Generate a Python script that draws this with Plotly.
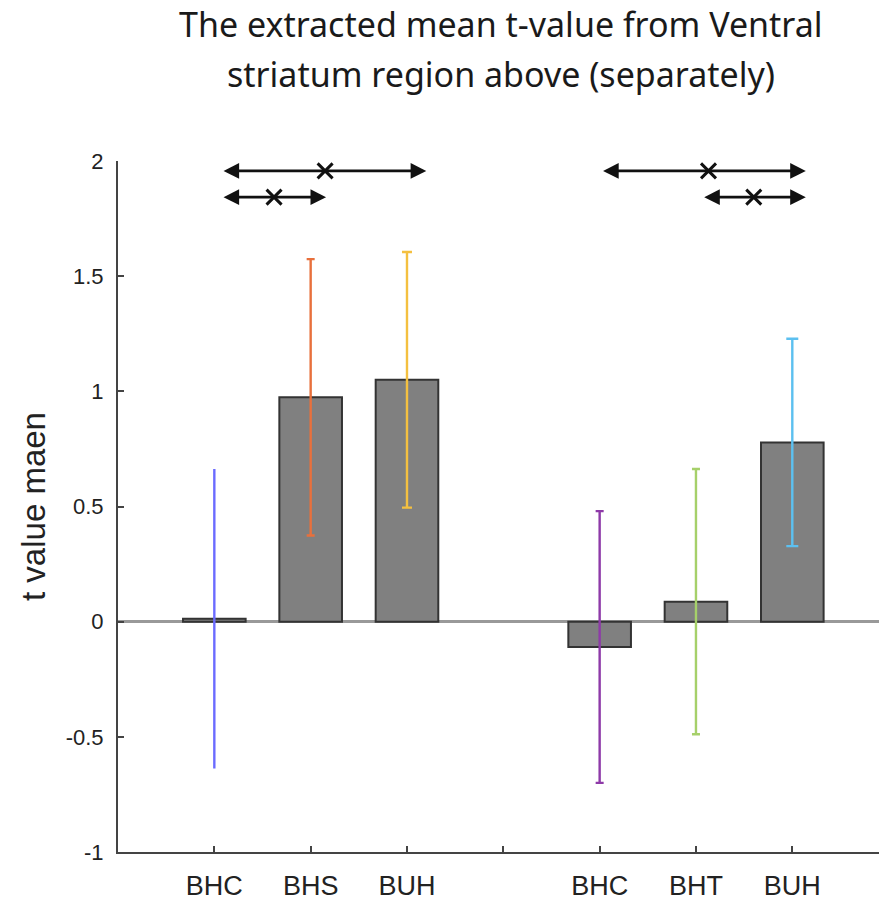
import plotly.graph_objects as go

# ---- data ----
categories = ["BHC", "BHS", "BUH", "", "BHC", "BHT", "BUH"]
positions = [1, 2, 3, 5, 6, 7]
means = [0.013, 0.974, 1.05, -0.11, 0.087, 0.778]
errors = [0.65, 0.60, 0.555, 0.59, 0.576, 0.45]
err_colors = ["#6b6bff", "#e8703c", "#f4c040", "#8e3aa8", "#a6d06a", "#5cc0f0"]
cap_widths = [0, 4, 5, 4, 4, 6]

# comparison arrows: (start, end, y, cross position)
arrow_start = [1.08, 1.08, 5.02, 6.07]
arrow_end = [3.2, 2.16, 7.14, 7.14]
arrow_y = [1.957, 1.843, 1.957, 1.843]
cross_x = [2.15, 1.62, 6.13, 6.6]

title_lines = ["The extracted mean t-value from Ventral", "striatum region above (separately)"]
title_y_px = [24, 74]

W, H = 879, 901
ML, MR, MT, MB = 118, 0, 161, 49
plot_w = W - ML - MR
plot_h = H - MT - MB

fig = go.Figure()

for p, m, e, c, cw in zip(positions, means, errors, err_colors, cap_widths):
    fig.add_trace(go.Bar(
        x=[p], y=[m], width=0.65,
        marker=dict(color="#808080", line=dict(color="#333333", width=2)),
        error_y=dict(type="data", array=[e], color=c, thickness=2.4, width=cw),
        showlegend=False, hoverinfo="skip",
    ))

fig.add_trace(go.Scatter(
    x=cross_x, y=arrow_y, mode="markers",
    marker=dict(symbol="x-thin", size=15, line=dict(color="#111111", width=3)),
    showlegend=False, hoverinfo="skip",
))

annotations = []
for s, e, y in zip(arrow_start, arrow_end, arrow_y):
    annotations.append(dict(
        x=e, y=y, ax=s, ay=y, xref="x", yref="y", axref="x", ayref="y",
        text="", showarrow=True, arrowhead=2, arrowside="end+start",
        arrowsize=1.2, arrowwidth=2.6, arrowcolor="#111111",
    ))

for t, ypx in zip(title_lines, title_y_px):
    annotations.append(dict(
        x=(501 - ML) / plot_w, y=(H - MB - ypx) / plot_h, xref="paper", yref="paper",
        text=t, showarrow=False,
        font=dict(family="Noto Sans", size=34, color="#1a1a1a"),
        xanchor="center", yanchor="middle",
    ))

fig.update_layout(
    width=W, height=H,
    margin=dict(l=ML, r=MR, t=MT, b=MB),
    paper_bgcolor="white", plot_bgcolor="white",
    barmode="overlay",
    annotations=annotations,
    xaxis=dict(
        range=[0, 7.9], tickmode="array", tickvals=list(range(1, 8)), ticktext=categories,
        showgrid=False, zeroline=False, showline=True, linecolor="#444444", linewidth=2,
        ticks="inside", ticklen=6, tickcolor="#444444", tickwidth=1.5,
        ticklabelstandoff=9, automargin=False,
        tickfont=dict(family="Liberation Sans", size=27, color="#222222"),
    ),
    yaxis=dict(
        range=[-1, 2], tickvals=[-1, -0.5, 0, 0.5, 1, 1.5, 2],
        ticktext=["-1", "-0.5", "0", "0.5", "1", "1.5", "2"],
        showgrid=False, zeroline=True, zerolinecolor="#999999", zerolinewidth=3,
        showline=True, linecolor="#444444", linewidth=2,
        ticks="inside", ticklen=6, tickcolor="#444444", tickwidth=1.5,
        ticklabelstandoff=8, automargin=False,
        tickfont=dict(family="Liberation Sans", size=22, color="#222222"),
        title=dict(text="t value maen", font=dict(family="Liberation Sans", size=33, color="#222222"), standoff=10),
    ),
)

fig.write_html(
    "out.html",
    config={"displayModeBar": False},
    post_script="document.body.style.margin='0';document.body.style.overflow='hidden';",
)
